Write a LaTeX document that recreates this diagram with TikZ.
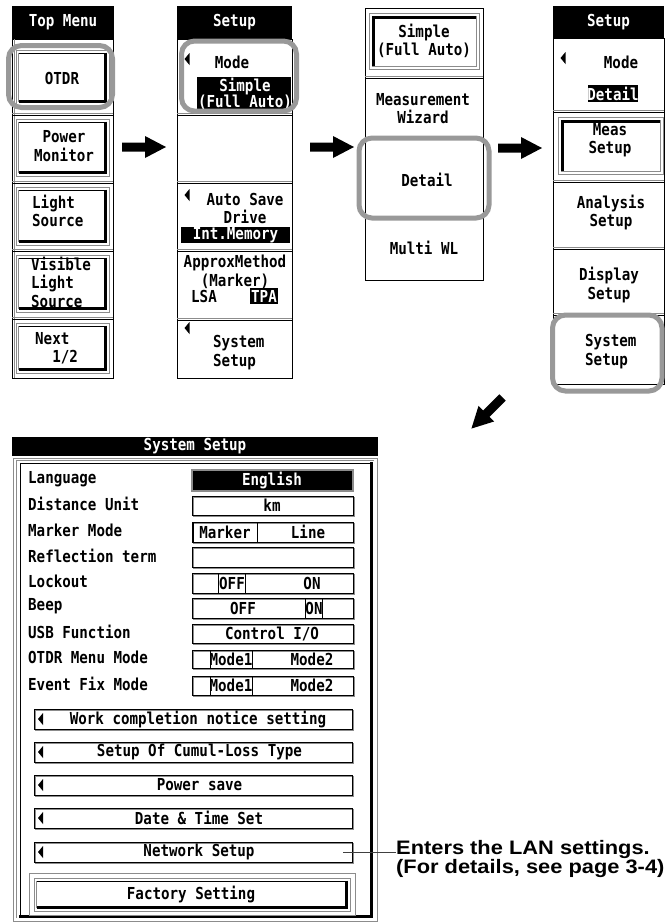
\documentclass[tikz,border=0pt]{standalone}
\usepackage{fontspec}
\setmainfont{Liberation Sans}
\newfontfamily\lcdfont[FakeStretch=0.86]{DejaVu Sans Mono}
\newfontfamily\notefont[FakeStretch=1.12]{Liberation Sans}
\usetikzlibrary{calc}
\definecolor{hlgray}{gray}{0.6}
\definecolor{edgegray}{gray}{0.55}

\tikzset{
  lcd/.style={font=\lcdfont\bfseries\fontsize{16.5}{18.5}\selectfont, inner sep=0pt, align=center},
  lcdw/.style={lcd, text=white},
  hilite/.style={draw=hlgray, line width=5pt, rounded corners=13pt},
  frameline/.style={draw=black, line width=0.8pt},
  sepline/.style={draw=edgegray, line width=0.8pt},
  note/.style={font=\notefont\bfseries\fontsize{19.5}{18}\selectfont, align=left, inner sep=0pt},
  optline/.style={draw=black, line width=0.8pt},
}

% raised 3D button: x1 y1 x2 y2
\newcommand\raisedbtn[4]{%
  \draw[edgegray, line width=0.8pt] (#1,#2) rectangle (#3,#4);
  \draw[edgegray, line width=0.7pt] (#1+2.5,#4-3) -- (#1+2.5,#2+2.5);
  \draw[black, line width=1.5pt] (#1+3,#2+3.5) -- (#3-3.5,#2+3.5);
  \draw[black, line width=3pt] (#3-4,#2+2.5) -- (#3-4,#4-4) -- (#1+2.5,#4-4);
}
% pressed 3D button: x1 y1 x2 y2
\newcommand\pressedbtn[4]{%
  \draw[edgegray, line width=0.8pt] (#1,#2) rectangle (#3,#4);
  \draw[black, line width=3pt] (#1+4,#4-3) -- (#1+4,#2+4) -- (#3-3,#2+4);
  \draw[edgegray, line width=0.7pt] (#3-2.5,#2+3) -- (#3-2.5,#4-2.5) -- (#1+3,#4-2.5);
}
% double separator line across a column: x1 x2 y
\newcommand\sepdouble[3]{%
  \draw[sepline] (#1,#3) -- (#2,#3);
  \draw[frameline] (#1,#3+2) -- (#2,#3+2);
}
% small left-pointing triangle centred at x y
\newcommand\lefttri[2]{\fill (#1-2.5,#2) -- (#1+2.5,#2-6) -- (#1+2.5,#2+6) -- cycle;}
% sunken value field: x1 y1 x2 y2
\newcommand\valuefield[4]{%
  \draw[edgegray, line width=1pt] (#1+1.2,#2+1.2) rectangle (#3+1.2,#4+1.2);
  \draw[black, line width=0.8pt] (#1,#2) rectangle (#3,#4);
}
% big solid arrow: centre x, centre y, angle
\newcommand\fatarrow[3]{%
  \fill[black, rotate around={#3:(#1,#2)}]
    (#1-22,#2-4.5) -- (#1+1,#2-4.5) -- (#1+1,#2-11) -- (#1+22,#2)
    -- (#1+1,#2+11) -- (#1+1,#2+4.5) -- (#1-22,#2+4.5) -- cycle;
}

\begin{document}
\begin{tikzpicture}[x=1pt,y=-1pt]
\useasboundingbox (0,0) rectangle (667,922);
\fill[white] (0,0) rectangle (667,922);

% ---------------- Top Menu column ----------------
\fill (12,6) rectangle (114,39);
\node[lcdw] (tmhead) at (63,22) {Top Menu};
\draw[frameline] (12,39) rectangle (113,378);
\draw[sepline] (14.5,39) -- (14.5,378);
\sepdouble{12}{113}{113}
\sepdouble{12}{113}{181}
\sepdouble{12}{113}{249}
\sepdouble{12}{113}{317}
\raisedbtn{16}{50}{109}{105}
\raisedbtn{16}{119}{109}{176}
\raisedbtn{16}{187}{109}{245}
\raisedbtn{16}{255}{109}{312}
\raisedbtn{16}{323}{109}{373}
\node[lcd] (otdr) at (62,78) {OTDR};
\node[lcd] (pwrmon) at (64,146) {Power\\Monitor};
\node[lcd, anchor=west, align=left] (lsrc) at (32,211) {Light\\Source};
\node[lcd, anchor=west, align=left] (vlsrc) at (31,282) {Visible\\Light\\Source};
\node[lcd, anchor=west, align=left] (next) at (35,348) {Next\\\hphantom{Ne}1/2};

% ---------------- Setup column (Mode: Simple) ----------------
\fill (177,6) rectangle (292,39);
\node[lcdw] (s1head) at (234.5,22) {Setup};
\draw[frameline] (177,39) rectangle (292,378);
\sepdouble{177}{292}{113}
\sepdouble{177}{292}{181}
\sepdouble{177}{292}{249}
\sepdouble{177}{292}{318}
\lefttri{187}{59}
\node[lcd] (s1mode) at (232,62) {Mode};
\fill (197,77) rectangle (291,111);
\node[lcdw, font=\lcdfont\bfseries\fontsize{16.5}{16}\selectfont] (s1simple) at (245,93.5) {Simple\\(Full Auto)};
\lefttri{187}{195}
\node[lcd] (s1auto) at (245,208.5) {Auto Save\\Drive};
\fill (181,227) rectangle (290,243);
\node[lcdw] (s1int) at (235.5,235) {Int.Memory};
\node[lcd] (s1approx) at (235,272) {ApproxMethod\\(Marker)};
\node[lcd] (s1lsa) at (204,296) {LSA};
\fill (250,288) rectangle (278,304);
\node[lcdw] (s1tpa) at (264,296) {TPA};
\lefttri{187}{328}
\node[lcd, anchor=west, align=left] (s1sys) at (213,352.5) {System\\Setup};

% ---------------- Mode selection column ----------------
\draw[frameline] (365,8) rectangle (483,280);
\sepdouble{365}{483}{76}
\pressedbtn{369}{13}{479}{69}
\node[lcd] (m2simple) at (424,41) {Simple\\(Full Auto)};
\node[lcd] (m2wiz) at (423,108.5) {Measurement\\Wizard};
\node[lcd] (m2detail) at (427,180) {Detail};
\node[lcd] (m2multi) at (424,248) {Multi WL};

% ---------------- Setup column (Mode: Detail) ----------------
\fill (553,6) rectangle (664,38);
\node[lcdw] (s2head) at (608.5,22) {Setup};
\draw[frameline] (553,38) rectangle (664,384);
\sepdouble{553}{664}{110}
\sepdouble{553}{664}{180}
\sepdouble{553}{664}{247}
\sepdouble{553}{664}{313}
\lefttri{563}{58}
\node[lcd] (s2mode) at (621,62) {Mode};
\fill (588,85) rectangle (638,102);
\node[lcdw] (s2detail) at (613,93.5) {Detail};
\pressedbtn{558}{117}{663}{174}
\node[lcd] (s2meas) at (610,140) {Meas\\Setup};
\node[lcd] (s2anal) at (611,212.5) {Analysis\\Setup};
\node[lcd] (s2disp) at (609,285) {Display\\Setup};
\node[lcd, anchor=west, align=left] (s2sys) at (585,351.5) {System\\Setup};

% ---------------- highlights ----------------
\draw[hilite] (8.5,45.5) rectangle (112.5,107.5);
\draw[hilite] (181.5,41) rectangle (296.5,111);
\draw[hilite] (359,138) rectangle (489,218);
\draw[hilite] (552.5,315) rectangle (662,391);

% ---------------- arrows ----------------
\fatarrow{144}{147}{0}
\fatarrow{332}{147}{0}
\fatarrow{520}{148}{0}
\fatarrow{487}{413}{225}

% ---------------- System Setup dialog ----------------
\fill (12,437) rectangle (378,456);
\node[lcdw] (sshead) at (195,446.5) {System Setup};
\draw[edgegray, line width=0.8pt] (13,458) rectangle (377,921);
\draw[black, line width=0.8pt] (20,916) -- (20,463) -- (371,463);
\draw[edgegray, line width=0.7pt] (16,918) -- (16,460) -- (374,460);
\draw[black, line width=3pt] (371,462) -- (371,916) -- (19,916);

% setting rows
\node[lcd, anchor=west] (lblang) at (28,479) {Language};
\node[lcd, anchor=west] (lbdist) at (28,504) {Distance Unit};
\node[lcd, anchor=west] (lbmark) at (28,530) {Marker Mode};
\node[lcd, anchor=west] (lbrefl) at (28,555.5) {Reflection term};
\node[lcd, anchor=west] (lblock) at (28,581) {Lockout};
\node[lcd, anchor=west] (lbbeep) at (28,606) {Beep};
\node[lcd, anchor=west] (lbusb) at (28,631.5) {USB Function};
\node[lcd, anchor=west] (lbotdr) at (28,657.5) {OTDR Menu Mode};
\node[lcd, anchor=west] (lbevent) at (28,684) {Event Fix Mode};

\draw[edgegray, line width=1.2pt, fill=black] (192,470) rectangle (353,491);
\node[lcdw] (vlang) at (272,480.5) {English};
\valuefield{192}{496}{353}{515}
\node[lcd] (vdist) at (272,505.5) {km};
\valuefield{192}{522}{353}{542}
\draw[optline] (193,522) rectangle (257,542);
\node[lcd] (vmark1) at (225,532) {Marker};
\node[lcd] (vmark2) at (308,532) {Line};
\valuefield{192}{547}{353}{567}
\valuefield{192}{573}{353}{593}
\draw[optline] (218,573) rectangle (245,593);
\node[lcd] (vlock1) at (232,583) {OFF};
\node[lcd] (vlock2) at (312,583) {ON};
\valuefield{192}{598}{353}{618}
\node[lcd] (vbeep1) at (243,608) {OFF};
\draw[optline] (305,598) rectangle (322,618);
\node[lcd] (vbeep2) at (314,608) {ON};
\valuefield{192}{624}{353}{643}
\node[lcd] (vusb) at (272,633.5) {Control I/O};
\valuefield{192}{650}{353}{668}
\draw[optline] (210,650) rectangle (252,668);
\node[lcd] (votdr1) at (231,659) {Mode1};
\node[lcd] (votdr2) at (312,659) {Mode2};
\valuefield{192}{676}{353}{695}
\draw[optline] (210,676) rectangle (252,695);
\node[lcd] (vevent1) at (231,685.5) {Mode1};
\node[lcd] (vevent2) at (312,685.5) {Mode2};

% sub-menu bars
\valuefield{34}{709}{352}{729}
\lefttri{40.5}{719}
\node[lcd] (bwork) at (198,719) {Work completion notice setting};
\valuefield{34}{742}{352}{762}
\lefttri{40.5}{752}
\node[lcd] (bcumul) at (199.5,752) {Setup Of Cumul-Loss Type};
\valuefield{34}{775}{352}{795}
\lefttri{40.5}{785}
\node[lcd] (bpower) at (199.5,785) {Power save};
\valuefield{34}{808}{352}{828}
\lefttri{40.5}{818}
\node[lcd] (bdate) at (199,818) {Date \& Time Set};
\valuefield{34}{842}{352}{862}
\node[minimum width=318pt, minimum height=20pt, inner sep=0pt] (netbar) at (193,852) {};
\lefttri{40.5}{852}
\node[lcd] (bnet) at (199,852) {Network Setup};

% factory setting button
\draw[edgegray, line width=0.8pt] (29,873) rectangle (355,915);
\raisedbtn{34}{878}{350}{911}
\node[lcd] (bfact) at (191,894.5) {Factory Setting};

% annotation
\node[note, anchor=north west] (lannote) at (396,840) {Enters the LAN settings.\\(For details, see page 3-4)};
\draw[black!75, line width=0.8pt] ([xshift=-9pt]netbar.east) -- (netbar.east -| lannote.west);
\end{tikzpicture}
\end{document}
